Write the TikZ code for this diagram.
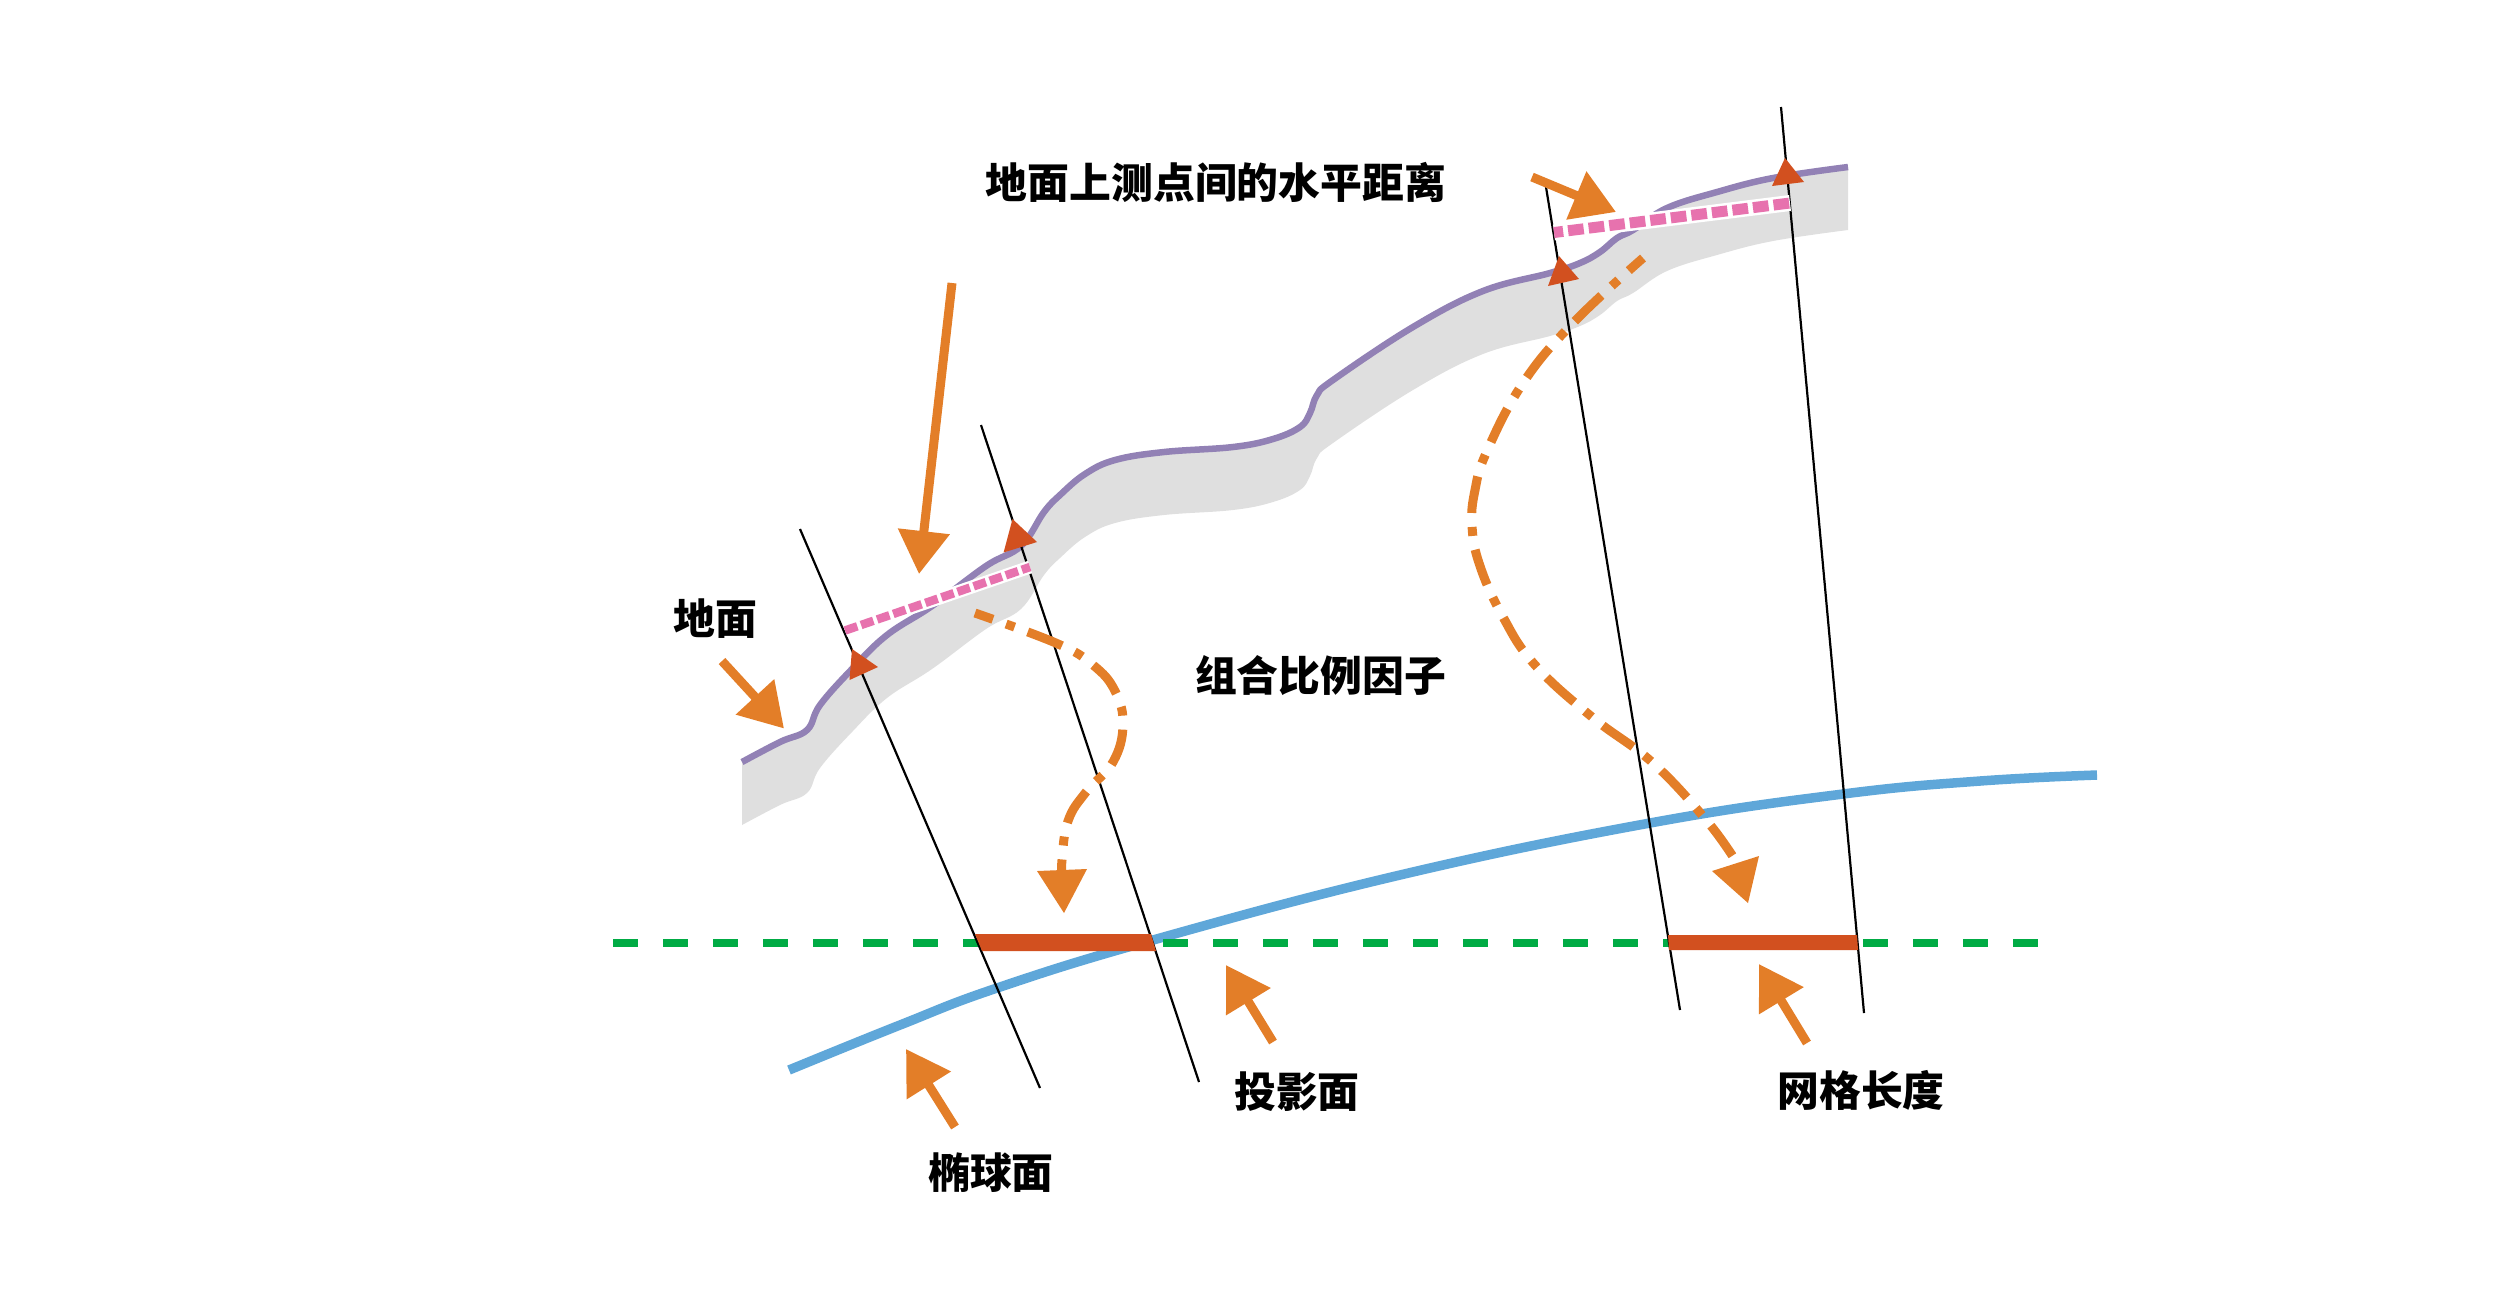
\documentclass[tikz,border=0pt]{standalone}
\usepackage{fontspec}
\usetikzlibrary{arrows.meta}
\newfontfamily\cjk{Noto Sans CJK SC}
\definecolor{orangeA}{HTML}{E37E28}
\definecolor{redA}{HTML}{D2501F}
\definecolor{greenA}{HTML}{00AB44}
\definecolor{pinkA}{HTML}{E772AE}
\definecolor{purpleA}{HTML}{9281B5}
\definecolor{blueA}{HTML}{5FA7D9}
\definecolor{grayA}{HTML}{DFDFDF}
\tikzset{
 lbl/.style={font=\cjk\bfseries\fontsize{11.9}{14}\selectfont,inner sep=0pt,text=black},
 headtip/.tip={Triangle[length=4.3mm,width=5mm]},
 pointer/.style={draw=orangeA,fill=orangeA,line width=0.9mm,-{headtip}},
 dashdot/.style={draw=orangeA,fill=none,line width=0.9mm,dash pattern=on 3.7mm off 1.4mm on 0.9mm off 1.4mm,dash phase=1.8mm},
 ray/.style={draw=black,line width=0.22mm},
 redseg/.style={fill=redA,draw=none},
 marker/.style={fill=redA,draw=none},
 mask/.style={draw=white,line width=1.6mm},
}
\begin{document}
\begin{tikzpicture}[x=0.1mm,y=-0.1mm]
\useasboundingbox (0,0) rectangle (2500,1308);
% ground band
\fill[grayA] plot[smooth,tension=0.65] coordinates {(742,762)(780,742)(807,730)(820,705)(852,669)(887,635)(932,606)(986,566)(1021,546)(1044,512)(1060,495)(1085,474)(1115,460)(1164,452)(1233,447)(1273,439)(1300,427)(1310,413)(1317,395)(1333,380)(1413,327)(1483,291)(1550,273)(1580,263)(1600,252)(1617,238)(1633,230)(1667,208)(1717,192)(1773,178)(1848,167)}
 -- plot[smooth,tension=0.65] coordinates {(1848,230)(1773,241)(1717,255)(1667,271)(1633,293)(1617,301)(1600,315)(1580,326)(1550,336)(1483,354)(1413,390)(1333,443)(1317,458)(1310,476)(1300,490)(1273,502)(1233,510)(1164,515)(1115,523)(1085,537)(1060,558)(1044,575)(1021,609)(986,629)(932,669)(887,698)(852,732)(820,768)(807,793)(780,805)(742,825)} -- cycle;
\draw[purpleA,line width=0.65mm] plot[smooth,tension=0.65] coordinates {(742,762)(780,742)(807,730)(820,705)(852,669)(887,635)(932,606)(986,566)(1021,546)(1044,512)(1060,495)(1085,474)(1115,460)(1164,452)(1233,447)(1273,439)(1300,427)(1310,413)(1317,395)(1333,380)(1413,327)(1483,291)(1550,273)(1580,263)(1600,252)(1617,238)(1633,230)(1667,208)(1717,192)(1773,178)(1848,167)};
% ellipsoid
\draw[blueA,line width=0.95mm] plot[smooth,tension=0.7] coordinates {(789,1070)(900,1025)(997,988)(1153,940)(1400,875)(1650,823)(1843,794)(1980,781)(2097,775)};
% projection plane
\coordinate (pa) at (613,942.5);
\coordinate (pb) at (2038,942.5);
\draw[greenA,line width=0.8mm,dash pattern=on 2.5mm off 2.5mm] (pa) -- (pb);
% rays
\coordinate (r1a) at (800,529); \coordinate (r1b) at (1040,1088);
\coordinate (r2a) at (981,425); \coordinate (r2b) at (1199,1082);
\coordinate (r3a) at (1546,187); \coordinate (r3b) at (1680,1010);
\coordinate (r4a) at (1781,107); \coordinate (r4b) at (1864,1013);
\draw[ray] (r1a) -- (r1b);
\draw[ray] (r2a) -- (r2b);
\draw[ray] (r3a) -- (r3b);
\draw[ray] (r4a) -- (r4b);
% grid lengths
\fill[redseg] (975,934) -- (1151,934) -- (1156,951) -- (982,951) -- cycle;
\fill[redseg] (1668,935) -- (1857,935) -- (1858,950) -- (1669,950) -- cycle;
% horizontal distances
\coordinate (h1a) at (845,630.5); \coordinate (h1b) at (1030,567);
\coordinate (h2a) at (1554,232.5); \coordinate (h2b) at (1790,203);
\draw[white,line width=1.3mm] (h1a) -- (h1b);
\draw[mask] (h2a) -- (h2b);
\draw[pinkA,line width=0.85mm,dash pattern=on 1.3mm off 0.4mm] (h1a) -- (h1b);
\draw[pinkA,line width=1.1mm,dash pattern=on 1.57mm off 0.5mm,dash phase=0.65mm] (h2a) -- (h2b);
% markers
\fill[marker] (852,649) -- (878,667) -- (849.5,680) -- cycle;
\fill[marker] (1012.5,519) -- (1037,542) -- (1003.6,552.5) -- cycle;
\fill[marker] (1559,256) -- (1579,279) -- (1548,286) -- cycle;
\fill[marker] (1785,158) -- (1804,182) -- (1772,186) -- cycle;
% dash-dot arrows
\draw[dashdot] plot[smooth,tension=0.7] coordinates {(975,613)(1057,643.5)(1093,665)(1115,691)(1123,725)(1113,762)(1086,792)(1068,821)(1062,860)(1062,880)};
\fill[orangeA] (1037,871) -- (1087,869) -- (1064,913) -- cycle;
\draw[dashdot] plot[smooth,tension=0.7] coordinates {(1643,258)(1573,323)(1523,383)(1487,451)(1475,490)(1472,526)(1480,566)(1503,617)(1535,665)(1592,717)(1653,763)(1707,821)(1737,863)};
\fill[orangeA] (1712,871) -- (1759,856) -- (1748,903) -- cycle;
% pointers
\coordinate (a1s) at (952,283); \coordinate (a1t) at (919,574);
\coordinate (a2s) at (722,661); \coordinate (a2t) at (784,728.5);
\coordinate (a3s) at (1532,177); \coordinate (a3t) at (1616,212);
\coordinate (a4s) at (1273,1042); \coordinate (a4t) at (1226,965);
\coordinate (a5s) at (955,1127); \coordinate (a5t) at (906,1049);
\coordinate (a6s) at (1807,1043); \coordinate (a6t) at (1759,964);
\draw[pointer] (a1s) -- (a1t);
\draw[pointer] (a2s) -- (a2t);
\draw[pointer] (a3s) -- (a3t);
\draw[pointer] (a4s) -- (a4t);
\draw[pointer] (a5s) -- (a5t);
\draw[pointer] (a6s) -- (a6t);
% labels
\node[lbl] (t1) at (1216,182) {地面上测点间的水平距离};
\node[lbl] (t2) at (715,619) {地面};
\node[lbl] (t3) at (1320.5,676) {组合比例因子};
\node[lbl] (t4) at (1297,1092) {投影面};
\node[lbl] (t5) at (991,1173) {椭球面};
\node[lbl] (t6) at (1861,1090) {网格长度};
\end{tikzpicture}
\end{document}
